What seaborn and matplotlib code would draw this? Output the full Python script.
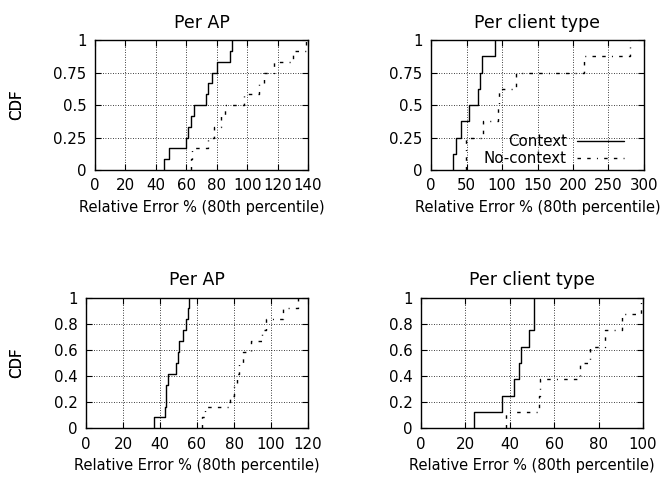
import numpy as np
import pandas as pd
import seaborn as sns
import matplotlib
matplotlib.use("Agg")
import matplotlib.pyplot as plt
from matplotlib.ticker import FormatStrFormatter

# relative error (80th percentile), one value per AP / client type
ap_top_ctx = [45.3, 48.6, 59.5, 61.0, 62.8, 64.8, 72.8, 74.5, 76.7, 80.4, 88.5, 90.3]
ap_top_noctx = [63.0, 64.0, 74.5, 78.4, 82.8, 85.5, 98.2, 108.0, 111.0, 117.7, 130.4, 138.7]
cl_top_ctx = [30.5, 35.1, 41.7, 53.9, 65.6, 69.4, 71.7, 90.0]
cl_top_noctx = [49.0, 49.3, 73.0, 94.7, 96.0, 119.5, 215.0, 280.0]

ap_bot_ctx = [36.5, 42.8, 43.2, 43.5, 44.2, 48.7, 49.5, 50.5, 52.7, 54.1, 54.9, 55.9]
ap_bot_noctx = [62.6, 64.4, 77.9, 80.2, 81.5, 82.9, 84.7, 89.2, 95.0, 97.3, 106.3, 114.7]
cl_bot_ctx = [23.9, 36.5, 41.9, 44.0, 45.2, 48.7, 50.8, 51.1]
cl_bot_noctx = [38.3, 53.0, 53.6, 71.5, 76.3, 82.7, 90.4, 99.0]

top_yticks = [0, 0.25, 0.5, 0.75, 1]
bot_yticks = [0, 0.2, 0.4, 0.6, 0.8, 1]

sns.set_theme(style="ticks")
plt.rcParams["font.family"] = ["DejaVu Sans"]
plt.rcParams["text.color"] = "black"
plt.rcParams["axes.labelcolor"] = "black"
fs = 10.8

fig = plt.figure(figsize=(6.62, 4.82), dpi=100)

W, H = 662, 482
def add_ax(left, right, top, bottom):
    return fig.add_axes([left / W, 1 - bottom / H, (right - left) / W, (bottom - top) / H])

panels = [
    (add_ax(95, 308, 40, 170), ap_top_ctx, ap_top_noctx, "Per AP", 140, 20, top_yticks, False),
    (add_ax(431, 644, 40, 170), cl_top_ctx, cl_top_noctx, "Per client type", 300, 50, top_yticks, True),
    (add_ax(86, 308, 297.6, 428.3), ap_bot_ctx, ap_bot_noctx, "Per AP", 120, 20, bot_yticks, False),
    (add_ax(421, 643, 297.6, 428.3), cl_bot_ctx, cl_bot_noctx, "Per client type", 100, 20, bot_yticks, False),
]

dashdot = (0, (2.5, 4.5, 2.5, 4.5, 0.7, 4.5))

for ax, ctx, noctx, title, xmax, xstep, yticks, show_leg in panels:
    sns.ecdfplot(x=ctx, ax=ax, color="black", linewidth=1.0, label="Context")
    sns.ecdfplot(x=noctx, ax=ax, color="black", linewidth=1.0, linestyle=dashdot, label="No-context")
    ax.set_xlim(0, xmax)
    ax.set_ylim(0, 1)
    ax.set_xticks(np.arange(0, xmax + 1, xstep))
    ax.set_yticks(yticks)
    ax.yaxis.set_major_formatter(FormatStrFormatter("%g"))
    ax.grid(True, color="black", linestyle=(0, (1, 2)), linewidth=0.6)
    ax.set_axisbelow(True)
    ax.tick_params(direction="in", top=True, right=True, length=4, width=0.8,
                   colors="black", labelsize=fs, pad=6)
    for s in ax.spines.values():
        s.set_color("black")
        s.set_linewidth(1.0)
    ax.set_title(title, fontsize=12.5, pad=9, color="black")
    ax.set_xlabel("Relative Error % (80th percentile)", fontsize=10.5)
    ax.set_ylabel("CDF", fontsize=fs)
    bb = ax.get_position()
    ax.xaxis.set_label_coords(0.5, -0.23)
    ax.yaxis.set_label_coords(-(bb.x0 * W - 24) / (bb.width * W), 0.5)
    if show_leg:
        ax.legend(loc="lower right", bbox_to_anchor=(0.906, 0.03), frameon=False,
                  markerfirst=False, handlelength=3.1, handletextpad=0.7,
                  borderpad=0, borderaxespad=0, labelspacing=0.12, fontsize=fs)

fig.savefig("out.png", dpi=100)
